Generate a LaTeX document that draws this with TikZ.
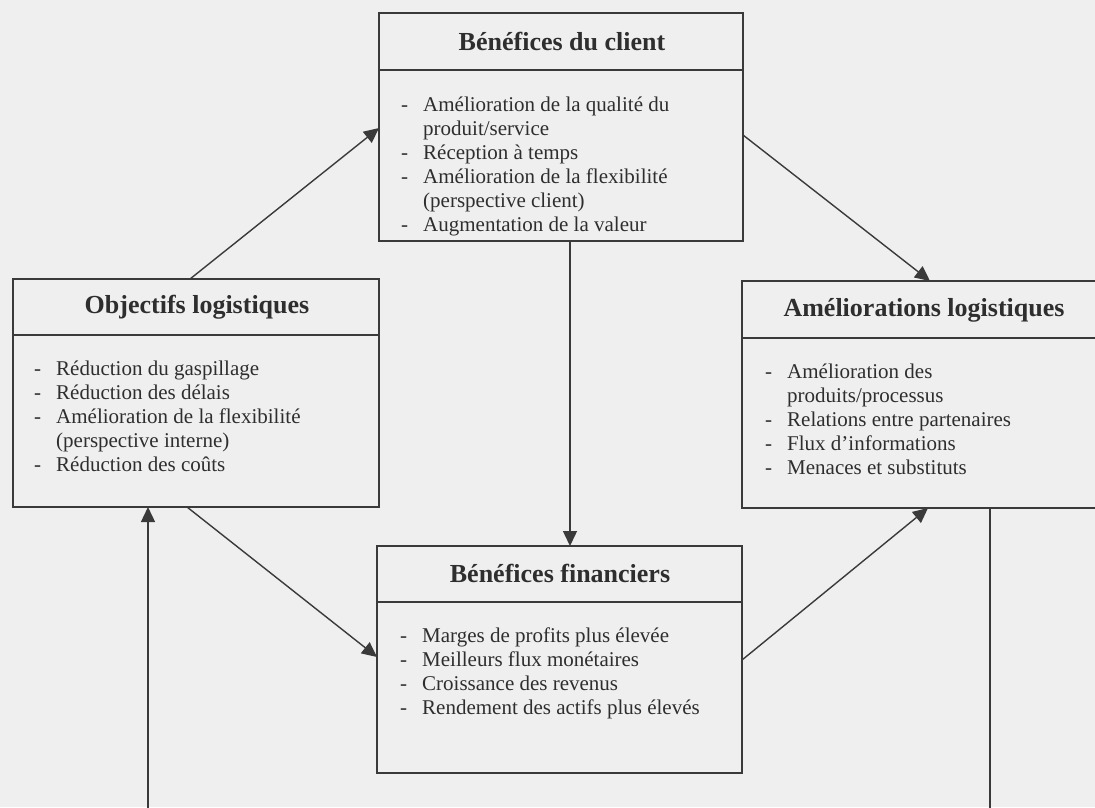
\documentclass[tikz,border=0pt]{standalone}
\usepackage{fontspec}
\setmainfont{Liberation Serif}
\usetikzlibrary{arrows.meta,calc}
\definecolor{paper}{HTML}{EFEFEF}
\definecolor{ink}{HTML}{3A3A3A}
\definecolor{txt}{HTML}{2E2E2E}
\tikzset{
  frame/.style={draw=ink, line width=1.8pt, inner sep=0pt, outer sep=0pt},
  head/.style={font=\fontsize{26}{30}\selectfont\bfseries, text=txt, inner sep=0pt},
  body/.style={anchor=north west, inner sep=0pt, text=txt, font=\fontsize{21}{24}\selectfont},
  link/.style={draw=ink, line width=1.4pt},
  arr/.style={link, -{Triangle[length=15pt,width=14pt]}}
}
\newcommand{\itemlist}[1]{\begin{tabular}{@{}l@{\hspace{15pt}}l@{}}#1\end{tabular}}
\begin{document}
\begin{tikzpicture}[x=1pt,y=-1pt]
  \useasboundingbox (0,0) rectangle (1095,807);
  \fill[paper] (0,0) rectangle (1095,807);
  \clip (0,0) rectangle (1095,807);

  % Bénéfices du client
  \node[frame, minimum width=364pt, minimum height=228pt] (client) at (561,127) {};
  \draw[frame] (379,70) -- (743,70);
  \node[head] (clienthead) at (562,41) {Bénéfices du client};
  \node[body] (clientbody) at (401,94) {\itemlist{
    - & Amélioration de la qualité du\\
      & produit/service\\
    - & Réception à temps\\
    - & Amélioration de la flexibilité\\
      & (perspective client)\\
    - & Augmentation de la valeur}};

  % Objectifs logistiques
  \node[frame, minimum width=366pt, minimum height=228pt] (obj) at (196,393) {};
  \draw[frame] (13,335) -- (379,335);
  \node[head] (objhead) at (197,307) {Objectifs logistiques};
  \node[body] (objbody) at (34,358) {\itemlist{
    - & Réduction du gaspillage\\
    - & Réduction des délais\\
    - & Amélioration de la flexibilité\\
      & (perspective interne)\\
    - & Réduction des coûts}};

  % Améliorations logistiques
  \node[frame, minimum width=364pt, minimum height=227pt] (amel) at (924,394.5) {};
  \draw[frame] (742,338) -- (1106,338);
  \node[head] (amelhead) at (924,310) {Améliorations logistiques};
  \node[body] (amelbody) at (765,361) {\itemlist{
    - & Amélioration des\\
      & produits/processus\\
    - & Relations entre partenaires\\
    - & Flux d'informations\\
    - & Menaces et substituts}};

  % Bénéfices financiers
  \node[frame, minimum width=365pt, minimum height=227pt] (fin) at (559.5,659.5) {};
  \draw[frame] (377,602) -- (742,602);
  \node[head] (finhead) at (560,573) {Bénéfices financiers};
  \node[body] (finbody) at (400,625) {\itemlist{
    - & Marges de profits plus élevée\\
    - & Meilleurs flux monétaires\\
    - & Croissance des revenus\\
    - & Rendement des actifs plus élevés}};

  % Connectors
  \draw[arr] ([xshift=177pt]obj.north west) -- ([yshift=-115pt]client.north west);
  \draw[arr] ([yshift=-122pt]client.north east) -- ([xshift=188pt]amel.north west);
  \coordinate (down) at ([xshift=9pt]client.south);
  \draw[arr] (down) -- (down |- fin.north);
  \draw[arr] ([xshift=174pt]obj.south west) -- ([yshift=-111pt]fin.north west);
  \draw[arr] ([yshift=-114pt]fin.north east) -- ([xshift=186pt]amel.south west);
  \coordinate (rightout) at (990,815);
  \draw[link] (rightout |- amel.south) -- (rightout);
  \coordinate (leftout) at (148,815);
  \draw[arr] (leftout) -- (leftout |- obj.south);
\end{tikzpicture}
\end{document}
